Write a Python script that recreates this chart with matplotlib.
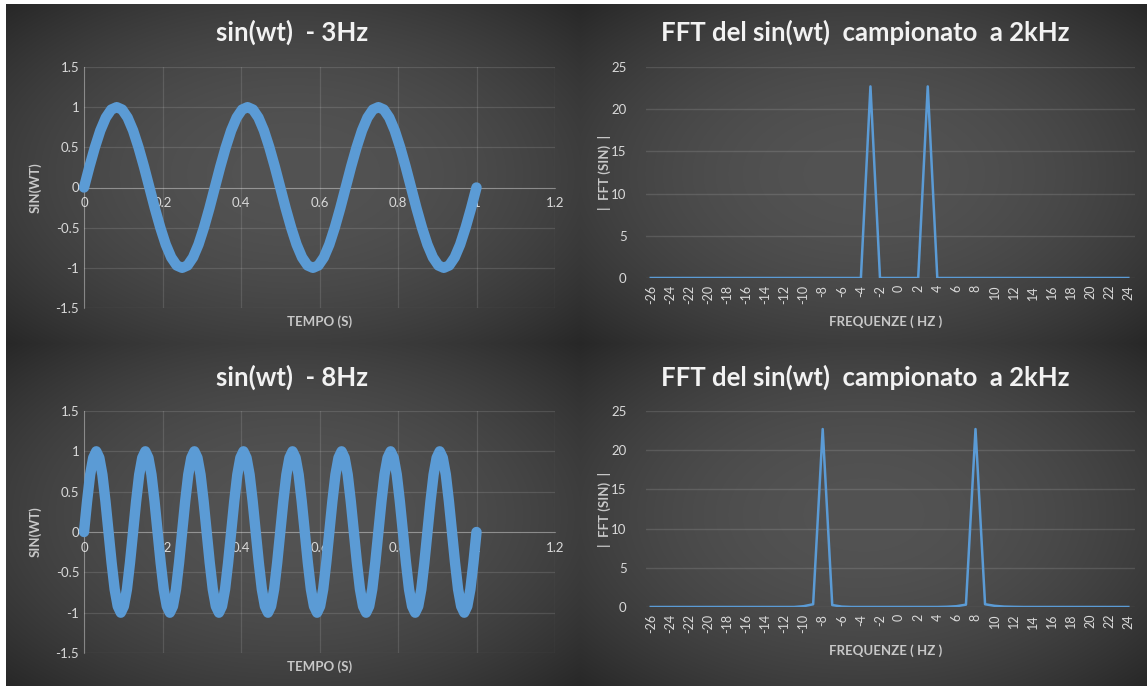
import numpy as np
import matplotlib.pyplot as plt

plt.rcParams['font.family'] = ['Lato', 'DejaVu Sans']

# sin(wt) 3 Hz: 24 samples per cycle, 0..1 s
sin_3hz = [0, 0.26, 0.5, 0.71, 0.87, 0.97, 1, 0.97, 0.87, 0.71, 0.5, 0.26,
           0, -0.26, -0.5, -0.71, -0.87, -0.97, -1, -0.97, -0.87, -0.71, -0.5, -0.26,
           0, 0.26, 0.5, 0.71, 0.87, 0.97, 1, 0.97, 0.87, 0.71, 0.5, 0.26,
           0, -0.26, -0.5, -0.71, -0.87, -0.97, -1, -0.97, -0.87, -0.71, -0.5, -0.26,
           0, 0.26, 0.5, 0.71, 0.87, 0.97, 1, 0.97, 0.87, 0.71, 0.5, 0.26,
           0, -0.26, -0.5, -0.71, -0.87, -0.97, -1, -0.97, -0.87, -0.71, -0.5, -0.26,
           0]

# sin(wt) 8 Hz, 16 samples per cycle, 0..1 s
sin_8hz = [0, 0.38, 0.71, 0.92, 1, 0.92, 0.71, 0.38, 0, -0.38, -0.71, -0.92, -1, -0.92, -0.71, -0.38,
           0, 0.38, 0.71, 0.92, 1, 0.92, 0.71, 0.38, 0, -0.38, -0.71, -0.92, -1, -0.92, -0.71, -0.38,
           0, 0.38, 0.71, 0.92, 1, 0.92, 0.71, 0.38, 0, -0.38, -0.71, -0.92, -1, -0.92, -0.71, -0.38,
           0, 0.38, 0.71, 0.92, 1, 0.92, 0.71, 0.38, 0, -0.38, -0.71, -0.92, -1, -0.92, -0.71, -0.38,
           0, 0.38, 0.71, 0.92, 1, 0.92, 0.71, 0.38, 0, -0.38, -0.71, -0.92, -1, -0.92, -0.71, -0.38,
           0, 0.38, 0.71, 0.92, 1, 0.92, 0.71, 0.38, 0, -0.38, -0.71, -0.92, -1, -0.92, -0.71, -0.38,
           0, 0.38, 0.71, 0.92, 1, 0.92, 0.71, 0.38, 0, -0.38, -0.71, -0.92, -1, -0.92, -0.71, -0.38,
           0, 0.38, 0.71, 0.92, 1, 0.92, 0.71, 0.38, 0, -0.38, -0.71, -0.92, -1, -0.92, -0.71, -0.38,
           0]

time_ticks = [0, 0.2, 0.4, 0.6, 0.8, 1, 1.2]
time_labels = ['0', '0.2', '0.4', '0.6', '0.8', '1', '1.2']
amp_ticks = [-1.5, -1, -0.5, 0, 0.5, 1, 1.5]
amp_labels = ['-1.5', '-1', '-0.5', '0', '0.5', '1', '1.5']

# FFT magnitude, frequency categories -26..24 Hz
freq_hz = list(range(-26, 25))
fft_3hz = [0, 0, 0, 0, 0, 0, 0, 0, 0, 0,          # -26..-17
           0, 0, 0, 0, 0, 0, 0, 0, 0, 0,          # -16..-7
           0, 0, 0, 22.7, 0, 0, 0, 0, 0, 22.7,    # -6..3
           0, 0, 0, 0, 0, 0, 0, 0, 0, 0,          # 4..13
           0, 0, 0, 0, 0, 0, 0, 0, 0, 0,          # 14..23
           0]                                     # 24
fft_8hz = [0, 0, 0, 0, 0, 0, 0, 0, 0, 0,
           0, 0, 0, 0, 0, 0, 0.1, 0.35, 22.7, 0.25,
           0.05, 0, 0, 0, 0, 0, 0, 0, 0, 0,
           0, 0.03, 0.1, 0.3, 22.7, 0.35, 0.15, 0.05, 0.02, 0,
           0, 0, 0, 0, 0, 0, 0, 0, 0, 0,
           0]
freq_ticks = list(range(-26, 25, 2))

BLUE = '#5b9bd5'
GRID_ALPHA = 0.12
AXIS = (1, 1, 1, 0.3)
TICK = '#d9d9d9'
LABEL = '#c8c8c8'
TITLE = '#f2f2f2'

W, H = 1147, 686
fig = plt.figure(figsize=(W / 100, H / 100), dpi=100)

# dark background with a soft radial gradient per chart
yy, xx = np.mgrid[0:H, 0:W]
img = np.zeros((H, W))
panels = [(6, 580, 4, 343), (580, W, 4, 343), (6, 580, 343, H), (580, W, 343, H)]
for x0, x1, y0, y1 in panels:
    cx, cy = (x0 + x1) / 2, (y0 + y1) / 2
    a, b = (x1 - x0) / 2, (y1 - y0) / 2
    r = np.sqrt(((xx - cx) / a) ** 2 + ((yy - cy) / b) ** 2)
    val = 37 + 46 * np.clip(1 - (r / 1.45) ** 2, 0, 1)
    mask = (xx >= x0) & (xx < x1) & (yy >= y0) & (yy < y1)
    img[mask] = val[mask]
img[:4, :] = 255
img[:, :6] = 255
bg = fig.add_axes([0, 0, 1, 1], zorder=-10)
bg.imshow(np.repeat(img[:, :, None] / 255, 3, axis=2), aspect='auto', interpolation='bilinear')
bg.axis('off')


def sine_panel(rect, y, title, title_y):
    ax = fig.add_axes(rect)
    ax.set_facecolor('none')
    t = np.linspace(0, 1, len(y))
    ax.plot(t, y, color=BLUE, lw=7.5, solid_capstyle='round', solid_joinstyle='round',
            zorder=3, clip_on=False)
    ax.set_xlim(0, 1.2)
    ax.set_ylim(-1.5, 1.5)
    ax.set_xticks(time_ticks)
    ax.set_xticklabels(time_labels)
    ax.set_yticks(amp_ticks)
    ax.set_yticklabels(amp_labels)
    for s in ['top', 'right']:
        ax.spines[s].set_visible(False)
    ax.spines['bottom'].set_position(('data', 0))
    ax.spines['bottom'].set_color(AXIS)
    ax.spines['left'].set_color(AXIS)
    ax.grid(True, color='white', alpha=GRID_ALPHA, lw=0.9)
    ax.tick_params(length=0, colors=TICK, labelsize=9.5)
    ax.tick_params(axis='x', pad=7)
    ax.set_xlabel('TEMPO (S)', fontsize=9.5, fontweight='bold', color=LABEL)
    ax.xaxis.set_label_coords(0.5, -0.03)
    ax.set_ylabel('SIN(WT)', fontsize=9.5, fontweight='bold', color=LABEL)
    ax.yaxis.set_label_coords(-0.09, 0.5)
    fig.text(292 / W, 1 - title_y / H, title, ha='center', va='center',
             fontsize=18.5, fontweight='bold', color=TITLE)


def fft_panel(rect, vals, title, title_y, xlab_y):
    ax = fig.add_axes(rect)
    ax.set_facecolor('none')
    ax.plot(freq_hz, vals, color=BLUE, lw=1.8, zorder=3)
    ax.set_xlim(-26.5, 24.7)
    ax.set_ylim(0, 25)
    ax.set_yticks([0, 5, 10, 15, 20, 25])
    ax.set_xticks(freq_ticks)
    ax.set_xticklabels([str(f) for f in freq_ticks], rotation=90)
    for s in ax.spines.values():
        s.set_visible(False)
    ax.yaxis.grid(True, color='white', alpha=GRID_ALPHA, lw=1.0)
    ax.tick_params(length=0, colors=TICK, labelsize=9.5)
    ax.tick_params(axis='x', pad=5, labelsize=9)
    ax.tick_params(axis='y', pad=14)
    ax.set_xlabel('FREQUENZE ( HZ )', fontsize=9.5, fontweight='bold', color=LABEL)
    ax.xaxis.set_label_coords(0.49, xlab_y)
    ax.set_ylabel('|  FFT (SIN)  |', fontsize=9.5, fontweight='bold', color=LABEL)
    ax.yaxis.set_label_coords(-0.072, 0.5)
    fig.text(865 / W, 1 - title_y / H, title, ha='center', va='center',
             fontsize=18.5, fontweight='bold', color=TITLE)


sine_panel([84 / W, 1 - 308 / H, 471 / W, 241 / H], sin_3hz, 'sin(wt)  - 3Hz', 32)
sine_panel([84 / W, 1 - 653 / H, 471 / W, 242 / H], sin_8hz, 'sin(wt)  - 8Hz', 377)
fft_panel([646 / W, 1 - 278 / H, 489 / W, 211 / H], fft_3hz,
          'FFT del sin(wt)  campionato  a 2kHz', 32, -0.175)
fft_panel([646 / W, 1 - 607 / H, 489 / W, 196 / H], fft_8hz,
          'FFT del sin(wt)  campionato  a 2kHz', 377, -0.19)

fig.savefig('out.png', dpi=100)
